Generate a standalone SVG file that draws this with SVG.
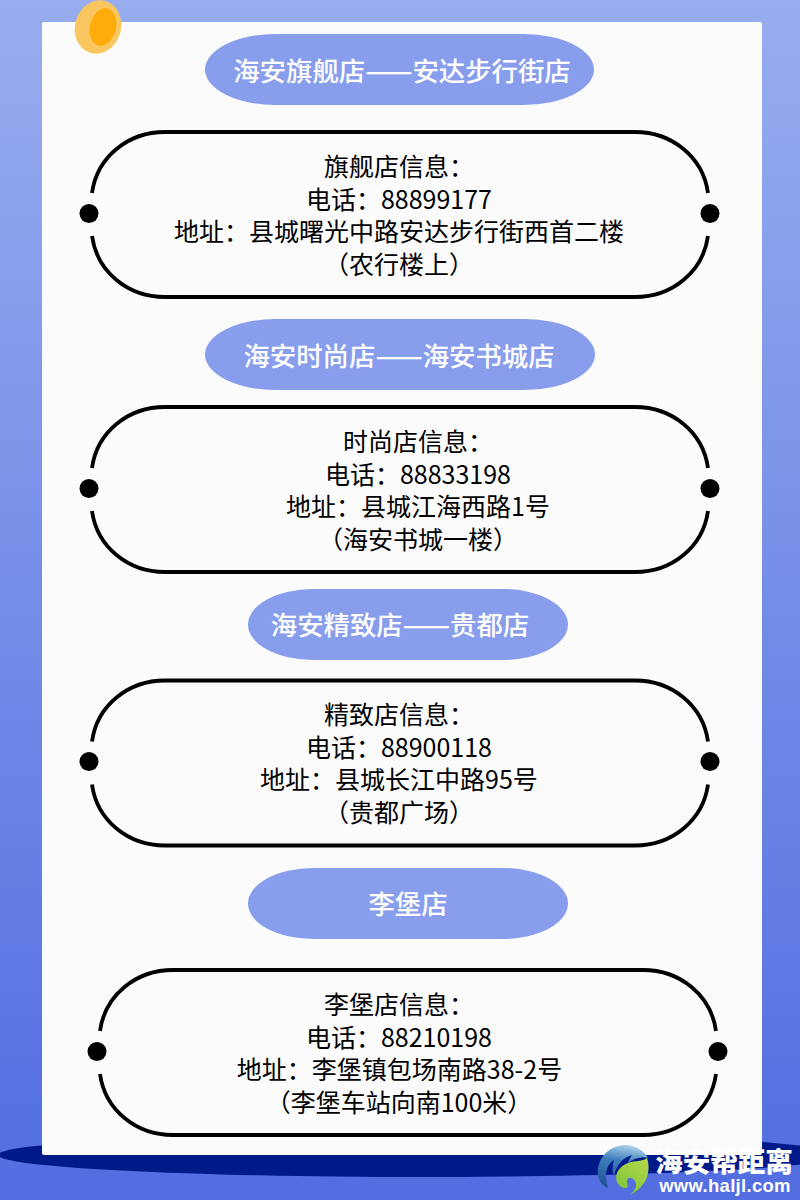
<svg xmlns="http://www.w3.org/2000/svg" width="800" height="1200" viewBox="0 0 800 1200">
<style>
.t{font-family:"Noto Sans CJK SC","Noto Sans",sans-serif;font-size:25px;fill:#000;text-anchor:middle}
.h{font-family:"Noto Sans CJK SC","Noto Sans",sans-serif;font-size:26.4px;font-weight:500;fill:#fff;text-anchor:middle}
.d{font-size:28px}
.p{fill:#889eec}
.f{fill:none;stroke:#000;stroke-width:3.8}
</style>
<defs>
<linearGradient id="bg" x1="0" y1="0" x2="0" y2="1"><stop offset="0" stop-color="#98adef"/><stop offset="1" stop-color="#516de0"/></linearGradient>
<linearGradient id="gl" x1="0.5" y1="0" x2="0.3" y2="1"><stop offset="0" stop-color="#a9cfe6"/><stop offset="0.35" stop-color="#3f7fbc"/><stop offset="1" stop-color="#1e4f96"/></linearGradient>
<linearGradient id="gr" x1="0.8" y1="0" x2="0.2" y2="1"><stop offset="0" stop-color="#b3d84a"/><stop offset="1" stop-color="#7cc23a"/></linearGradient>
<path id="fr" d="M92 193C97 157 128 132 165 132H635C672 132 703 157 708 193M708 236C703 272 672 297 635 297H165C128 297 97 272 92 236"/>
</defs>
<rect width="800" height="1200" fill="url(#bg)"/>
<ellipse cx="420" cy="1155" rx="422" ry="22" fill="#001a8a"/>
<rect x="42" y="22" width="720" height="1133" rx="2" fill="#fbfbfb"/>
<g id="coin">
<ellipse cx="98" cy="27" rx="23" ry="27" transform="rotate(16 98 27)" fill="#f9c660"/>
<ellipse cx="103" cy="27" rx="13" ry="19" transform="rotate(14 103 27)" fill="#fdac0a"/>
</g>
<g id="node1">
<rect class="p" x="205" y="34" width="389" height="71" rx="70" ry="35.5"/>
<text class="h" x="402" y="81">海安旗舰店<tspan class="d">——</tspan>安达步行街店</text>
<use href="#fr" class="f"/>
<circle cx="89" cy="213.5" r="9.5"/><circle cx="710" cy="213.5" r="9.5"/>
<text class="t" x="399" y="176">旗舰店信息：</text>
<text class="t" x="399" y="209">电话：88899177</text>
<text class="t" x="399" y="241">地址：县城曙光中路安达步行街西首二楼</text>
<text class="t" x="399" y="274">（农行楼上）</text>
</g>
<g id="node2">
<rect class="p" x="205" y="319" width="390" height="71" rx="70" ry="35.5"/>
<text class="h" x="399" y="366">海安时尚店<tspan class="d">——</tspan>海安书城店</text>
<use href="#fr" class="f" y="275"/>
<circle cx="89" cy="488.5" r="9.5"/><circle cx="710" cy="488.5" r="9.5"/>
<text class="t" x="418" y="451">时尚店信息：</text>
<text class="t" x="418" y="484">电话：88833198</text>
<text class="t" x="418" y="516">地址：县城江海西路1号</text>
<text class="t" x="418" y="549">（海安书城一楼）</text>
</g>
<g id="node3">
<rect class="p" x="248" y="589" width="320" height="71" rx="65" ry="35.5"/>
<text class="h" x="400" y="635">海安精致店<tspan class="d">——</tspan>贵都店</text>
<use href="#fr" class="f" y="548.5"/>
<circle cx="89" cy="761.5" r="9.5"/><circle cx="710" cy="761.5" r="9.5"/>
<text class="t" x="399" y="724">精致店信息：</text>
<text class="t" x="399" y="757">电话：88900118</text>
<text class="t" x="399" y="789">地址：县城长江中路95号</text>
<text class="t" x="399" y="822">（贵都广场）</text>
</g>
<g id="node4">
<rect class="p" x="248" y="868" width="320" height="71" rx="65" ry="35.5"/>
<text class="h" x="408" y="914">李堡店</text>
<use href="#fr" class="f" x="8" y="838"/>
<circle cx="97" cy="1051.5" r="9.5"/><circle cx="718" cy="1051.5" r="9.5"/>
<text class="t" x="399" y="1014">李堡店信息：</text>
<text class="t" x="399" y="1047">电话：88210198</text>
<text class="t" x="399.5" y="1079">地址：李堡镇包场南路38-2号</text>
<text class="t" x="399" y="1112">（李堡车站向南100米）</text>
</g>
<g id="logo">
<path d="M637 1148C625 1141 605 1146 599 1164C595 1175 600 1185 608 1188C604 1175 606 1165 614 1160C612 1167 612 1172 614 1176C616 1166 622 1158 632 1155C630 1158 628 1161 628 1163C634 1158 642 1156 648 1158C645 1153 642 1150 637 1148Z" fill="url(#gl)"/>
<path d="M647 1158C651 1170 648 1186 630 1195C636 1190 638 1184 634 1180C632 1177 627 1177 627 1181C627 1184 628 1186 628 1187C624 1190 619 1186 617 1182C614 1173 620 1166 628 1163C636 1160 642 1162 647 1158Z" fill="url(#gr)"/>
<text x="724" y="1172" font-family="'Noto Sans CJK SC',sans-serif" font-size="27.5" font-weight="900" fill="#fff" text-anchor="middle">海安帮距离</text>
<text x="725" y="1192" font-family="'Liberation Sans',sans-serif" font-size="18.5" font-weight="700" fill="#fff" text-anchor="middle" letter-spacing=".3">www.haljl.com</text>
</g>
</svg>
